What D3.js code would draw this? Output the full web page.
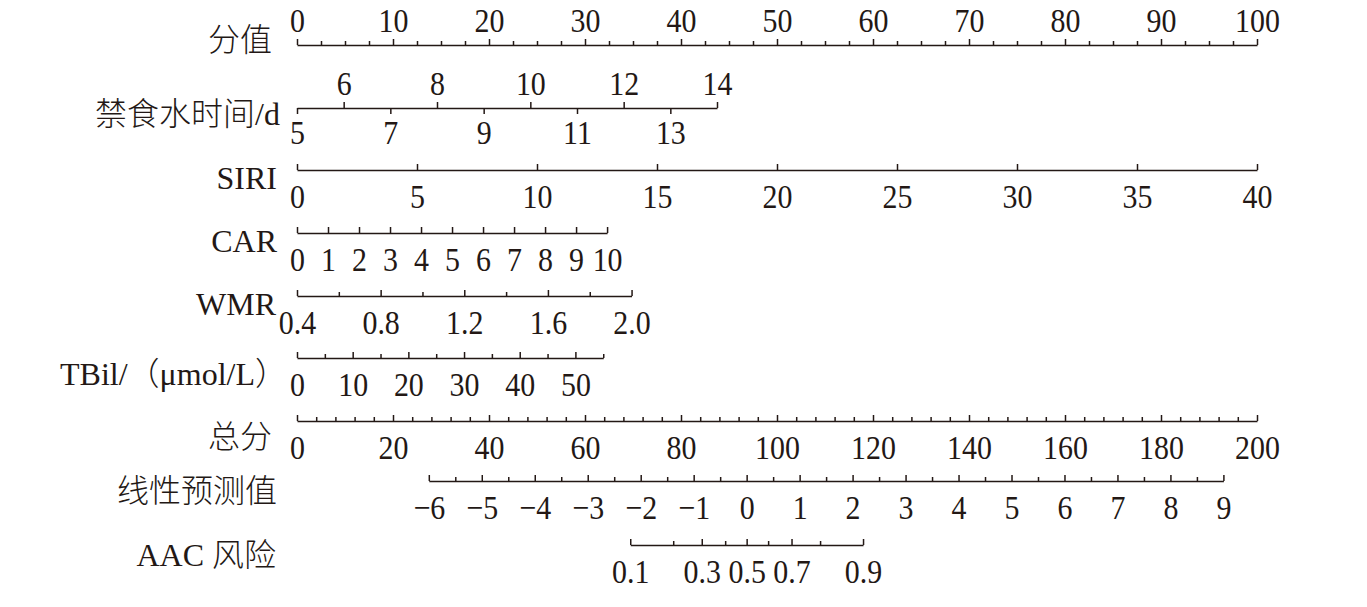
<!DOCTYPE html>
<html>
<head>
<meta charset="utf-8">
<script src="https://cdn.jsdelivr.net/npm/d3@7/dist/d3.min.js"></script>
<style>
  html, body { margin: 0; padding: 0; background: #fff; }
  svg { display: block; }
</style>
</head>
<body>
<svg id="chart" width="1367" height="607"></svg>
<script>
// ---------------- DATA ----------------
const rowNames = ["分值", "禁食水时间/d", "SIRI", "CAR", "WMR", "TBil/（μmol/L）", "总分", "线性预测值", "AAC 风险"];

// Points axis
const pointsLabels = [0, 10, 20, 30, 40, 50, 60, 70, 80, 90, 100];
const pointsMinorStep = 2.5;

// 禁食水时间/d
const fastingUpper = [6, 8, 10, 12, 14];
const fastingLower = [5, 7, 9, 11, 13];
const fastingRange = [5, 14];
const fastingPoints = [0, 43.75];

// SIRI
const siriLabels = [0, 5, 10, 15, 20, 25, 30, 35, 40];
const siriRange = [0, 40];
const siriPoints = [0, 100];

// CAR
const carLabels = [0, 1, 2, 3, 4, 5, 6, 7, 8, 9, 10];
const carRange = [0, 10];
const carPoints = [0, 32.3];

// WMR
const wmrTicks = [0.4, 0.6, 0.8, 1.0, 1.2, 1.4, 1.6, 1.8, 2.0];
const wmrLabels = [0.4, 0.8, 1.2, 1.6, 2.0];
const wmrRange = [0.4, 2.0];
const wmrPoints = [0, 34.85];

// TBil
const tbilTicks = [0, 5, 10, 15, 20, 25, 30, 35, 40, 45, 50, 55];
const tbilLabels = [0, 10, 20, 30, 40, 50];
const tbilRange = [0, 55];
const tbilPoints = [0, 31.9];

// Total points
const totalLabels = [0, 20, 40, 60, 80, 100, 120, 140, 160, 180, 200];
const totalMinorStep = 4;

// Linear predictor
const lpLabels = [-6, -5, -4, -3, -2, -1, 0, 1, 2, 3, 4, 5, 6, 7, 8, 9];
const lpMinorStep = 0.5;
const lpRange = [-6, 9];
const lpTotalPoints = [27.46, 193.0];

// AAC risk
const riskTicks = [0.1, 0.2, 0.3, 0.4, 0.5, 0.6, 0.7, 0.8, 0.9];
const riskLabels = [0.1, 0.3, 0.5, 0.7, 0.9];

// ---------------- LAYOUT ----------------
const ink = "#231815";
const rowY = [45, 108, 170, 233, 296, 358, 421, 481, 545];
const nameRight = [272, 280, 277, 277, 276, 287, 272, 277, 276];
const nameBase = [51, 125, 189, 252, 315, 385, 448, 502, 566];
const x0 = 297, x1 = 1257;
const tickFont = 34, tickScaleX = 0.88;
const majorLen = 6, minorLen = 4;
const labelFamily = "'Liberation Serif', 'Times New Roman', 'Noto Sans CJK SC', serif";

const svg = d3.select("#chart");
svg.append("rect").attr("width", 1367).attr("height", 607).attr("fill", "#fff");

const ptsX = d3.scaleLinear([0, 100], [x0, x1]);
const totX = d3.scaleLinear([0, 200], [x0, x1]);
const varScale = (range, pts) => d3.scaleLinear(range, [ptsX(pts[0]), ptsX(pts[1])]);
const lpX = d3.scaleLinear(lpRange, [totX(lpTotalPoints[0]), totX(lpTotalPoints[1])]);
const logit = p => Math.log(p / (1 - p));
const riskX = d3.scaleLinear([logit(0.1), logit(0.9)], [lpX(logit(0.1)), lpX(logit(0.9))]);

function styleAxis(g, keepDomain) {
  g.attr("font-size", null).attr("font-family", null);
  g.selectAll(".domain").attr("stroke", ink).attr("stroke-width", 1.5);
  if (!keepDomain) g.selectAll(".domain").remove();
  g.selectAll(".tick line").attr("stroke", ink).attr("stroke-width", 1.5);
  g.selectAll(".tick text")
    .attr("fill", ink)
    .style("font-family", "'Liberation Serif', 'Times New Roman', serif")
    .style("font-size", tickFont + "px")
    .attr("transform", `scale(${tickScaleX},1)`);
}

function row(i, scale, labels, minor, fmt, opts = {}) {
  const y = rowY[i];
  const fmtF = fmt || (d => d3.format("")(d));
  if (minor && minor.length) {
    const gm = svg.append("g").attr("transform", `translate(0,${y})`);
    const am = (opts.top ? d3.axisTop(scale).tickSize(minorLen) : d3.axisBottom(scale).tickSize(-minorLen))
      .tickValues(minor).tickFormat("").tickSizeOuter(0);
    gm.call(am);
    styleAxis(gm, false);
  }
  const g = svg.append("g").attr("transform", `translate(0,${y})`);
  let a;
  if (opts.top) {
    a = d3.axisTop(scale).tickSize(majorLen).tickPadding(7);
  } else {
    a = d3.axisBottom(scale).tickSize(-majorLen).tickPadding(14);
  }
  a.tickValues(labels).tickFormat(fmtF).tickSizeOuter(0);
  g.call(a);
  styleAxis(g, true);
}

// Row 0: points
row(0, ptsX, pointsLabels, d3.range(0, 100.001, pointsMinorStep).filter(v => v % 10 !== 0), null, { top: true });

// Row 1: fasting time (alternating)
{
  const s = varScale(fastingRange, fastingPoints);
  const y = rowY[1];
  const gU = svg.append("g").attr("transform", `translate(0,${y})`);
  gU.call(d3.axisTop(s).tickValues(fastingUpper).tickSize(majorLen).tickPadding(7).tickSizeOuter(0));
  styleAxis(gU, true);
  const gL = svg.append("g").attr("transform", `translate(0,${y})`);
  gL.call(d3.axisBottom(s).tickValues(fastingLower).tickSize(majorLen).tickPadding(6).tickSizeOuter(0));
  styleAxis(gL, false);
}

row(2, varScale(siriRange, siriPoints), siriLabels, null);
row(3, varScale(carRange, carPoints), carLabels, null);
row(4, varScale(wmrRange, wmrPoints), wmrLabels, wmrTicks.filter(v => !wmrLabels.includes(v)), d3.format(".1f"));
row(5, varScale(tbilRange, tbilPoints), tbilLabels, tbilTicks.filter(v => !tbilLabels.includes(v)), null);
row(6, totX, totalLabels, d3.range(0, 200.001, totalMinorStep).filter(v => v % 20 !== 0), null);
row(7, lpX, lpLabels, d3.range(-6, 9.001, lpMinorStep).filter(v => v % 1 !== 0), d3.format("d"));
row(8, riskX, riskLabels.map(logit), riskTicks.filter(v => !riskLabels.includes(v)).map(logit),
    v => d3.format(".1f")(1 / (1 + Math.exp(-v))));

// Row names
rowNames.forEach((name, i) => {
  svg.append("text")
    .attr("x", nameRight[i]).attr("y", nameBase[i])
    .attr("text-anchor", "end")
    .attr("fill", ink)
    .style("font-family", labelFamily)
    .style("font-size", "32px")
    .style("font-weight", 300)
    .text(name);
});
</script>
</body>
</html>
